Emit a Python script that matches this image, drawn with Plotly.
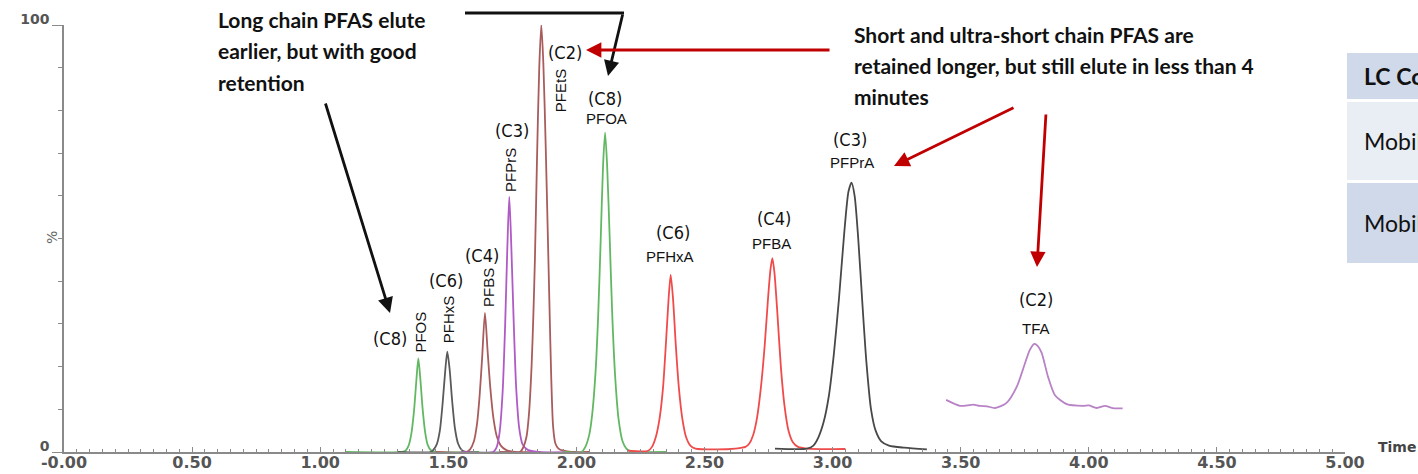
import plotly.graph_objects as go

# ---------------- data ----------------
# retention time (min) and relative intensity (%) for each trace
pfos_t = [1.10, 1.32, 1.333, 1.345, 1.355, 1.366, 1.375, 1.383, 1.391, 1.400, 1.410, 1.420, 1.432, 1.45, 1.62]
pfos_i = [0, 0, 0.3, 1.5, 4.0, 9.5, 16.5, 21.9, 17, 10, 4.5, 1.6, 0.4, 0, 0]

pfhxs_t = [1.30, 1.43, 1.44, 1.455, 1.467, 1.478, 1.488, 1.496, 1.505, 1.515, 1.526, 1.538, 1.552, 1.57, 1.75]
pfhxs_i = [0, 0, 0.4, 1.8, 5, 11.5, 19, 23.5, 19.5, 12, 5.5, 2, 0.5, 0, 0]

pfbs_t = [1.45, 1.57, 1.585, 1.600, 1.612, 1.622, 1.632, 1.643, 1.653, 1.664, 1.676, 1.690, 1.705, 1.725, 1.76, 1.86]
pfbs_i = [0, 0, 0.6, 2.5, 6.5, 13, 22, 32.6, 24, 15, 8, 3.5, 1.5, 0.5, 0, 0]

pfprs_t = [1.55, 1.675, 1.688, 1.700, 1.712, 1.722, 1.730, 1.738, 1.746, 1.755, 1.765, 1.777, 1.790, 1.81, 1.85, 2.0]
pfprs_i = [0, 0, 1, 4.5, 14, 30, 47, 59.8, 48, 31, 15, 5.5, 1.8, 0.5, 0, 0]

pfets_t = [1.70, 1.78, 1.792, 1.805, 1.815, 1.825, 1.832, 1.838, 1.846, 1.855, 1.863, 1.871, 1.880, 1.888, 1.895, 1.902, 1.909, 1.918, 1.93, 1.95, 1.98, 2.05]
pfets_i = [0, 0, 1, 3.5, 9, 20, 32, 45, 68, 90, 100, 91, 72, 52, 34, 17, 6, 2, 0.8, 0.3, 0, 0]

pfoa_t = [1.95, 2.02, 2.035, 2.050, 2.062, 2.075, 2.085, 2.095, 2.104, 2.112, 2.120, 2.130, 2.140, 2.152, 2.165, 2.180, 2.195, 2.21, 2.24, 2.35]
pfoa_i = [0, 0, 1.2, 4, 9, 19, 32, 50, 67, 74.8, 67, 50, 32, 17, 7.5, 2.5, 0.8, 0.2, 0, 0]

red_t = [2.20, 2.28, 2.295, 2.31, 2.325, 2.338, 2.350, 2.360, 2.368, 2.377, 2.388, 2.400, 2.413, 2.428, 2.445, 2.465, 2.55,
         2.62, 2.66, 2.675, 2.690, 2.705, 2.720, 2.735, 2.748, 2.758, 2.765, 2.773, 2.785, 2.798, 2.812, 2.828, 2.845, 2.865, 2.90, 3.05]
red_i = [0.3, 0.3, 1.2, 3.5, 8, 15, 26, 36, 41.5, 36, 25, 15, 8, 3.5, 1.5, 0.8, 0.6,
         0.8, 1.2, 2, 4, 8, 15, 25, 36, 43, 45.4, 42, 32, 20, 11, 5, 2.3, 1.2, 0.8, 0.7]

pfpra_t = [2.775, 2.90, 2.925, 2.945, 2.965, 2.985, 3.005, 3.025, 3.045, 3.062, 3.074, 3.086, 3.100, 3.116, 3.132, 3.150, 3.168, 3.190, 3.22, 3.28, 3.368]
pfpra_i = [0.8, 0.8, 1.5, 3.5, 7, 13, 23, 36, 51, 61, 63.1, 60, 50, 35, 21, 10, 5, 2.5, 1.5, 1.0, 0.6]

tfa_t = [3.443, 3.497, 3.525, 3.548, 3.575, 3.603, 3.634, 3.679, 3.719, 3.751, 3.770, 3.787, 3.801, 3.816, 3.841, 3.868, 3.914, 3.977, 4.000, 4.031, 4.063, 4.094, 4.132]
tfa_i = [12.2, 10.8, 10.9, 11.1, 10.8, 10.7, 10.3, 11.5, 15.3, 20.8, 23.9, 25.3, 24.8, 23.2, 17.6, 13.3, 11.2, 10.8, 10.9, 10.3, 10.8, 10.3, 10.2]

traces = [
    ("PFOS", pfos_t, pfos_i, "#62b862"),
    ("PFHxS", pfhxs_t, pfhxs_i, "#5a5a5a"),
    ("PFBS", pfbs_t, pfbs_i, "#a95c5c"),
    ("PFPrS", pfprs_t, pfprs_i, "#b05ac6"),
    ("PFEtS", pfets_t, pfets_i, "#a95c5c"),
    ("PFOA", pfoa_t, pfoa_i, "#62b862"),
    ("PFHxA / PFBA", red_t, red_i, "#f04b4b"),
    ("PFPrA", pfpra_t, pfpra_i, "#484848"),
    ("TFA", tfa_t, tfa_i, "#b882c6"),
]

# peak labels: compound, chain length
compounds = ["PFOS", "PFHxS", "PFBS", "PFPrS", "PFEtS", "PFOA", "PFHxA", "PFBA", "PFPrA", "TFA"]
chains = ["(C8)", "(C6)", "(C4)", "(C3)", "(C2)", "(C8)", "(C6)", "(C4)", "(C3)", "(C2)"]

x_tick_vals = [0, 0.5, 1.0, 1.5, 2.0, 2.5, 3.0, 3.5, 4.0, 4.5, 5.0]
x_tick_text = ["-0.00", "0.50", "1.00", "1.50", "2.00", "2.50", "3.00", "3.50", "4.00", "4.50", "5.00"]
y_tick_vals = [0, 100]
y_tick_text = ["0", "100"]

# ---------------- figure ----------------
W, H = 1418, 474
L, R, T, B = 64, 73, 25, 22
pw, ph = W - L - R, H - T - B


def px(xp):
    return (xp - L) / pw


def py(yp):
    return (H - B - yp) / ph


fig = go.Figure()
for name, t, i, c in traces:
    fig.add_trace(go.Scatter(x=t, y=i, mode="lines", name=name,
                             line=dict(color=c, width=1.8, shape="spline", smoothing=0.7),
                             hoverinfo="x+y+name"))

fig.update_layout(
    width=W, height=H,
    margin=dict(l=L, r=R, t=T, b=B, autoexpand=False),
    paper_bgcolor="white", plot_bgcolor="white",
    showlegend=False,
    xaxis=dict(range=[0, 5], tickvals=x_tick_vals, ticktext=x_tick_text, automargin=False,
               showgrid=False, zeroline=False, showline=True, linecolor="#8a8a8a", linewidth=1.5,
               ticks="inside", ticklen=5, tickcolor="#8a8a8a", tickwidth=1.2,
               ticklabelstandoff=-5,
               tickfont=dict(family="DejaVu Sans", size=16, color="#555555", weight="bold"),
               minor=dict(dtick=0.05, ticks="inside", ticklen=3, tickcolor="#8a8a8a", showgrid=False)),
    yaxis=dict(range=[0, 100], tickvals=y_tick_vals, ticktext=y_tick_text, automargin=False,
               showgrid=False, zeroline=False, showline=True, linecolor="#8a8a8a", linewidth=1.5,
               ticks="outside", ticklen=10, tickcolor="#8a8a8a", tickwidth=1.2,
               ticklabelshift=-6,
               tickfont=dict(family="DejaVu Sans", size=14, color="#555555", weight="bold"),
               minor=dict(dtick=10, ticks="outside", ticklen=4, tickcolor="#8a8a8a", showgrid=False)),
)

ann = []

# "%" axis label and "Time"
ann.append(dict(xref="paper", yref="paper", x=px(42), y=py(238), text="%", showarrow=False,
                textangle=-90, font=dict(family="DejaVu Sans", size=14, color="#666666")))
ann.append(dict(xref="paper", yref="paper", x=px(1376), y=py(447), text="Time", showarrow=False,
                xanchor="left", yanchor="middle",
                font=dict(family="DejaVu Sans", size=14, color="#444444", weight="bold")))

# peak labels (chain labels horizontal, some compound names vertical)
chain_pos = [(1.272, 26.5), (1.491, 40.2), (1.632, 46.1), (1.747, 75.4), (1.955, 93.6),
             (2.112, 82.9), (2.377, 51.3), (2.771, 54.6), (3.068, 73.1), (3.794, 35.6)]
name_pos = [(1.388, 28.1), (1.499, 31.1), (1.655, 38.4), (1.740, 66.0), (1.936, 84.5),
            (2.119, 78.2), (2.365, 45.7), (2.763, 48.9), (3.076, 67.7), (3.794, 29.0)]
vertical = [True, True, True, True, True, False, False, False, False, False]

chain_font = dict(family="DejaVu Sans Condensed, Roboto Condensed, Roboto, sans-serif", size=18, color="#111111")
name_font = dict(family="Liberation Sans, Arial, sans-serif", size=15, color="#111111")
for k in range(len(compounds)):
    cx, cy = chain_pos[k]
    ann.append(dict(x=cx, y=cy, text=chains[k], showarrow=False, font=chain_font))
    nx, ny = name_pos[k]
    ann.append(dict(x=nx, y=ny, text=compounds[k], showarrow=False,
                    textangle=-90 if vertical[k] else 0, font=name_font))

# bold callout texts
bold = dict(family="Lato", size=21, color="#111111", weight="bold")
left_lines = ["Long chain PFAS elute", "earlier, but with good", "retention"]
for j, s in enumerate(left_lines):
    ann.append(dict(xref="paper", yref="paper", x=px(216), y=py(20 + 31 * j), text=s,
                    showarrow=False, xanchor="left", yanchor="middle", font=bold))
right_lines = ["Short and ultra-short chain PFAS are",
               "retained longer, but still elute in less than 4", "minutes"]
for j, s in enumerate(right_lines):
    ann.append(dict(xref="paper", yref="paper", x=px(852), y=py(34 + 31.5 * j), text=s,
                    showarrow=False, xanchor="left", yanchor="middle", font=bold))

# arrows (tip position, tail offset in pixels)
arrows = [
    ((390, 313), (325, 102), "#111111"),
    ((608, 76), (623, 13), "#111111"),
    ((586, 50), (831, 50), "#c00000"),
    ((894, 166), (1015, 107), "#c00000"),
    ((1037, 267), (1046, 113), "#c00000"),
]
for (tx, ty), (sx, sy), col in arrows:
    ann.append(dict(xref="paper", yref="paper", x=px(tx), y=py(ty), ax=sx - tx, ay=sy - ty,
                    text="", showarrow=True, arrowhead=2, arrowsize=1.1, arrowwidth=2.8,
                    arrowcolor=col, standoff=0, startstandoff=0))

shapes = [dict(type="line", xref="paper", yref="paper", x0=px(465), y0=py(13), x1=px(624), y1=py(13),
               line=dict(color="#111111", width=2.8))]

# table fragment on the right edge
rows = [(53, 99, "#cfd9ea", "LC Conditions", "bold"), (102, 180, "#e9edf4", "Mobile phase A", "normal"),
        (183, 263, "#cfd9ea", "Mobile phase B", "normal")]
for y0, y1, col, txt, wt in rows:
    shapes.append(dict(type="rect", xref="paper", yref="paper", x0=px(1347), x1=px(1430),
                       y0=py(y1), y1=py(y0), fillcolor=col, line=dict(width=0), layer="below"))
    ann.append(dict(xref="paper", yref="paper", x=px(1362), y=py((y0 + y1) / 2), text=txt,
                    showarrow=False, xanchor="left", yanchor="middle",
                    font=dict(family="Lato", size=23, color="#111111", weight=wt)))

fig.update_layout(annotations=ann, shapes=shapes)
fig.write_html("out.html", config={"displayModeBar": False},
               post_script="document.body.style.margin='0';document.body.style.overflow='hidden';")
